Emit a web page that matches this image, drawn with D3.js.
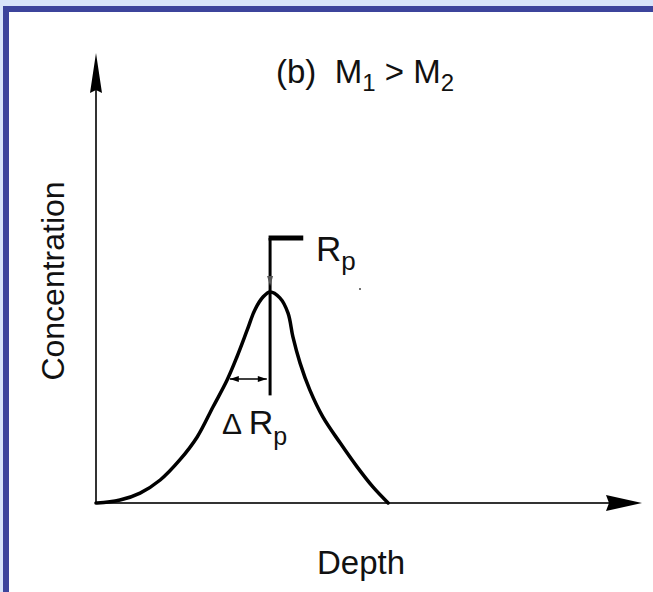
<!DOCTYPE html>
<html>
<head>
<meta charset="utf-8">
<script src="https://cdn.jsdelivr.net/npm/d3@7"></script>
<style>
  html, body { margin: 0; padding: 0; background: #fff; }
  svg { display: block; }
  text { font-family: "Liberation Sans", Arial, sans-serif; fill: #111; white-space: pre; }
</style>
</head>
<body>
<script>
// Depth / concentration profile (arbitrary units)
const depth = [0, 0.02, 0.44, 0.81, 1.18, 1.54, 1.86, 2.15, 2.41, 2.59, 2.78, 2.92, 3.07, 3.20,
  3.38, 3.53, 3.62, 3.75, 3.93, 4.17, 4.49, 4.80, 5.09, 5.37];
const concentration = [0, 0, 0.014, 0.047, 0.109, 0.204, 0.313, 0.455, 0.583, 0.692, 0.82, 0.915, 0.976, 1.0,
  0.972, 0.9, 0.787, 0.664, 0.536, 0.408, 0.284, 0.171, 0.076, 0];

// annotations
const rp = 3.20;              // projected range
const rpLine = [0.51, 1.256]; // vertical marker extent (concentration units)
const rpBarEnd = 3.81;
const deltaRp = [2.46, 3.14]; // straggle arrow
const deltaRpLevel = 0.588;

const width = 653, height = 592;

const x = d3.scaleLinear().domain([0, 10]).range([96, 640]);
const y = d3.scaleLinear().domain([0, 1]).range([503, 292]);

const svg = d3.select("body").append("svg")
  .attr("width", width)
  .attr("height", height);

// frame
svg.append("rect").attr("width", width).attr("height", height).attr("fill", "#d8e4fa");
svg.append("rect").attr("x", 3).attr("y", 6).attr("width", width).attr("height", height).attr("fill", "#3c449c");
svg.append("rect").attr("x", 9).attr("y", 12).attr("width", width).attr("height", height).attr("fill", "#fff");

// axes
const x0 = x(0), yBase = y(0);
svg.append("line")
  .attr("x1", x0).attr("y1", yBase + 1)
  .attr("x2", x0).attr("y2", 80)
  .attr("stroke", "#333").attr("stroke-width", 2);
svg.append("line")
  .attr("x1", x0 - 1).attr("y1", yBase)
  .attr("x2", 615).attr("y2", yBase)
  .attr("stroke", "#333").attr("stroke-width", 2);

// arrow heads
svg.append("path")
  .attr("d", `M${x0},53 L${x0 + 6},93 L${x0},90 L${x0 - 6},93 Z`)
  .attr("fill", "#000");
svg.append("path")
  .attr("d", `M642,${yBase} L606,${yBase - 8} L609,${yBase} L606,${yBase + 8} Z`)
  .attr("fill", "#000");

// profile
const line = d3.line()
  .x((d, i) => x(depth[i]))
  .y((d, i) => y(concentration[i]))
  .curve(d3.curveCatmullRom.alpha(0.5));

svg.append("path")
  .datum(depth)
  .attr("d", line)
  .attr("fill", "none")
  .attr("stroke", "#000")
  .attr("stroke-width", 3.5)
  .attr("stroke-linecap", "round");

// Rp marker
svg.append("line")
  .attr("x1", x(rp)).attr("y1", y(rpLine[0]))
  .attr("x2", x(rp)).attr("y2", y(rpLine[1]))
  .attr("stroke", "#000").attr("stroke-width", 3);
svg.append("line")
  .attr("x1", x(rp) - 1.5).attr("y1", y(rpLine[1]))
  .attr("x2", x(rpBarEnd)).attr("y2", y(rpLine[1]))
  .attr("stroke", "#000").attr("stroke-width", 5);
// small arrowhead pointing at the peak
svg.append("path")
  .attr("d", `M${x(rp)},${y(1) - 6} L${x(rp) + 3},${y(1) - 16} L${x(rp) - 3},${y(1) - 16} Z`)
  .attr("fill", "#555");

// delta Rp double arrow
const ay = y(deltaRpLevel);
const ax1 = x(deltaRp[0]), ax2 = x(deltaRp[1]);
svg.append("line")
  .attr("x1", ax1).attr("y1", ay)
  .attr("x2", ax2).attr("y2", ay)
  .attr("stroke", "#000").attr("stroke-width", 1.5);
svg.append("path")
  .attr("d", `M${ax1},${ay} L${ax1 + 9},${ay - 3} L${ax1 + 9},${ay + 3} Z M${ax2},${ay} L${ax2 - 9},${ay - 3} L${ax2 - 9},${ay + 3} Z`)
  .attr("fill", "#000");

// stray dot in the original figure
svg.append("circle").attr("cx", 360).attr("cy", 289).attr("r", 1).attr("fill", "#444");

// labels
const title = svg.append("text").attr("x", 276).attr("y", 83).attr("font-size", 33);
title.append("tspan").text("(b)  M");
title.append("tspan").attr("font-size", 24).attr("dy", 8).text("1");
title.append("tspan").attr("dy", -8).text(" > M");
title.append("tspan").attr("font-size", 24).attr("dy", 8).text("2");

const rpLabel = svg.append("text").attr("x", 316).attr("y", 261).attr("font-size", 35);
rpLabel.append("tspan").text("R");
rpLabel.append("tspan").attr("font-size", 26).attr("dy", 9).text("p");

const dLabel = svg.append("text").attr("x", 222).attr("y", 434).attr("font-size", 34);
dLabel.append("tspan").attr("font-size", 30).text("\u0394 ");
dLabel.append("tspan").text("R");
dLabel.append("tspan").attr("font-size", 25).attr("dy", 11).text("p");

svg.append("text")
  .attr("x", 361).attr("y", 574)
  .attr("text-anchor", "middle")
  .attr("font-size", 33)
  .text("Depth");

svg.append("text")
  .attr("transform", "translate(64,281) rotate(-90)")
  .attr("text-anchor", "middle")
  .attr("font-size", 32)
  .text("Concentration");
</script>
</body>
</html>
